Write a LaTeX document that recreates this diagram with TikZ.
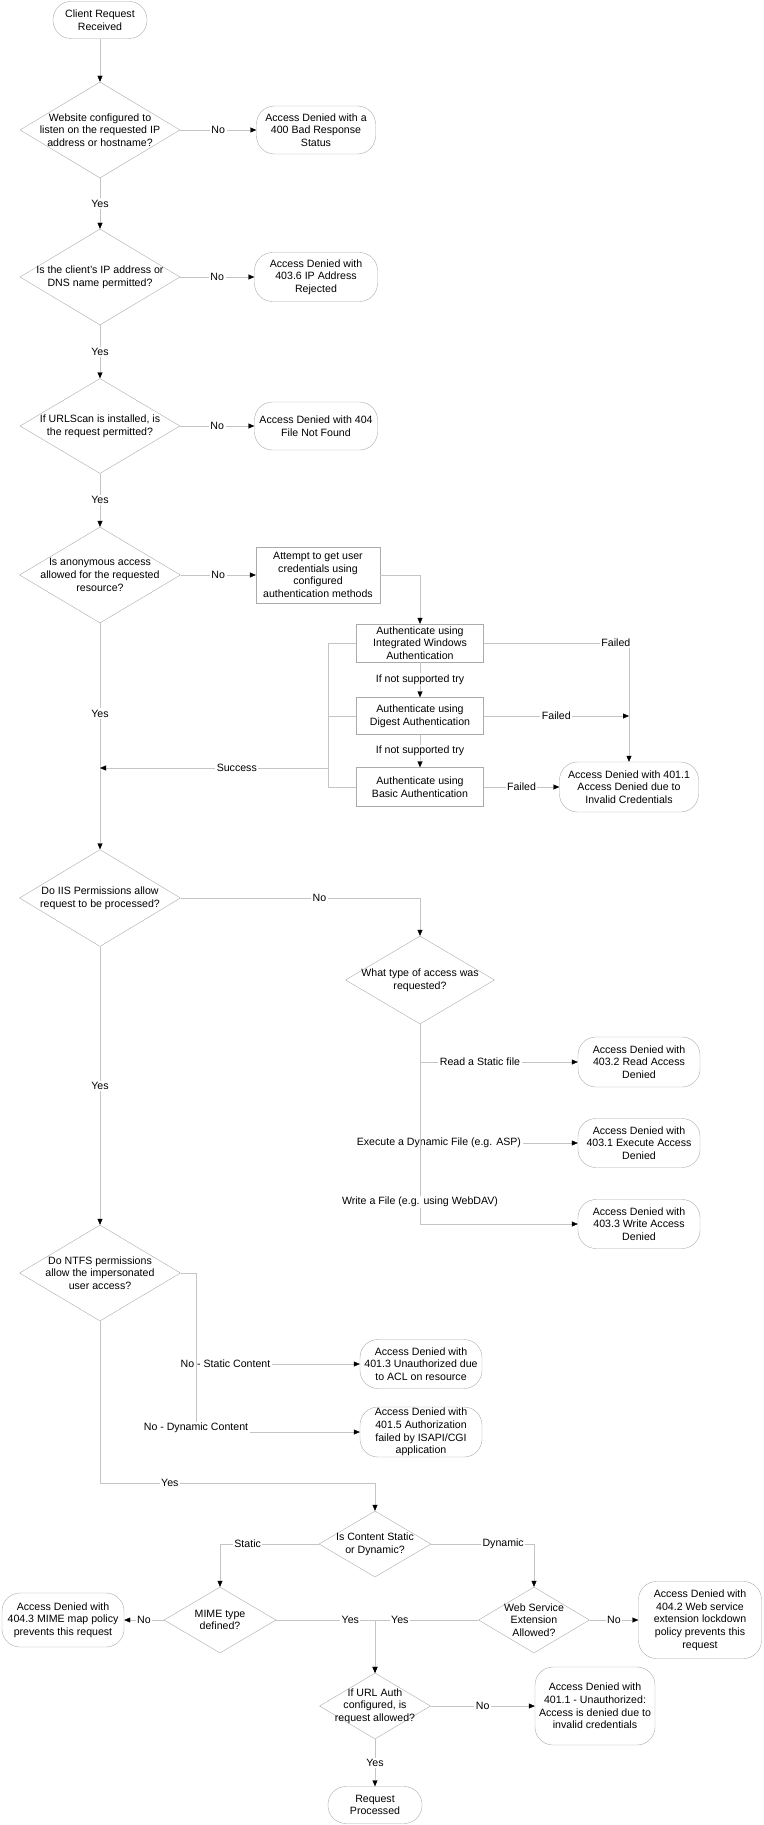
\documentclass[tikz,border=0pt]{standalone}
\usepackage{fontspec}
\setmainfont{Liberation Sans}
\usepackage{xcolor}
\usetikzlibrary{shapes.geometric, positioning, arrows.meta}

\definecolor{linegray}{HTML}{C4C4C4}
\definecolor{boxgray}{HTML}{ABABAB}

\begin{document}
\begin{tikzpicture}[x=1pt, y=-1pt,
        font=\fontsize{10.6}{12.7}\selectfont,
        term/.style 2 args={rectangle, rounded corners=18pt, draw=boxgray, align=center, inner sep=1pt, minimum width=#1, minimum height=#2},
        proc/.style 2 args={rectangle, draw=boxgray, align=center, inner sep=1pt, minimum width=#1, minimum height=#2},
        dec/.style 2 args={diamond, draw=boxgray, inner sep=0pt, minimum width=#1, minimum height=#2},
        dtxt/.style={align=center},
        flow/.style={draw=linegray, -{Triangle[length=6pt, width=5pt, color=black]}},
        link/.style={draw=linegray},
        lbl/.style={fill=white, inner sep=1.5pt}]
        \useasboundingbox (0, 0) rectangle (763, 1825);

        % main column
        \node[term={94pt}{37pt}] (start) at (100, 20) {Client Request\\Received};
        \node[dec={160pt}{96pt}, label={[dtxt]center:{Website configured to\\listen on the requested IP\\address or hostname?}}] (qhost) at (100, 130) {};
        \node[term={119pt}{48pt}] (e400) at (316, 130) {Access Denied with a\\400 Bad Response\\Status};
        \node[dec={160pt}{96pt}, label={[dtxt]center:{Is the client’s IP address or\\DNS name permitted?}}] (qip) at (100, 277) {};
        \node[term={123pt}{49pt}] (e4036) at (316, 277) {Access Denied with\\403.6 IP Address\\Rejected};
        \node[dec={160pt}{95pt}, label={[dtxt]center:{If URLScan is installed, is\\the request permitted?}}] (qscan) at (100, 426) {};
        \node[term={123pt}{48pt}] (e404) at (316, 426) {Access Denied with 404\\File Not Found};
        \node[dec={161pt}{96pt}, label={[dtxt]center:{Is anonymous access\\allowed for the requested\\resource?}}] (qanon) at (100, 575) {};

        % authentication
        \node[proc={124pt}{56pt}] (getcred) at (318, 575) {Attempt to get user\\credentials using\\configured\\authentication methods};
        \node[proc={127pt}{38pt}] (aiwa) at (420, 643) {Authenticate using\\Integrated Windows\\Authentication};
        \node[proc={127pt}{37pt}] (adig) at (420, 716) {Authenticate using\\Digest Authentication};
        \node[proc={127pt}{39pt}] (abas) at (420, 787) {Authenticate using\\Basic Authentication};
        \node[term={139pt}{50pt}] (e4011) at (629, 787) {Access Denied with 401.1\\Access Denied due to\\Invalid Credentials};

        % IIS permissions
        \node[dec={161pt}{97pt}, label={[dtxt]center:{Do IIS Permissions allow\\request to be processed?}}] (qiis) at (100, 898) {};
        \node[dec={149pt}{88pt}, label={[dtxt]center:{What type of access was\\requested?}}] (qtype) at (420, 980) {};
        \node[term={122pt}{50pt}] (e4032) at (639, 1062) {Access Denied with\\403.2 Read Access\\Denied};
        \node[term={122pt}{49pt}] (e4031) at (639, 1143) {Access Denied with\\403.1 Execute Access\\Denied};
        \node[term={122pt}{49pt}] (e4033) at (639, 1224) {Access Denied with\\403.3 Write Access\\Denied};

        % NTFS
        \node[dec={161pt}{96pt}, label={[dtxt]center:{Do NTFS permissions\\allow the impersonated\\user access?}}] (qntfs) at (100, 1273) {};
        \node[term={122pt}{49pt}] (e4013) at (421, 1364) {Access Denied with\\401.3 Unauthorized due\\to ACL on resource};
        \node[term={122pt}{49pt}] (e4015) at (421, 1432) {Access Denied with\\401.5 Authorization\\failed by ISAPI/CGI\\application};

        % content type
        \node[dec={112pt}{66pt}, label={[dtxt]center:{Is Content Static\\or Dynamic?}}] (qstat) at (375, 1544) {};
        \node[dec={112pt}{66pt}, label={[dtxt]center:{MIME type\\defined?}}] (qmime) at (220, 1620) {};
        \node[term={122pt}{54pt}] (e4043) at (63, 1620) {Access Denied with\\404.3 MIME map policy\\prevents this request};
        \node[dec={111pt}{66pt}, label={[dtxt]center:{Web Service\\Extension\\Allowed?}}] (qwse) at (534, 1620) {};
        \node[term={123pt}{77pt}] (e4042) at (700, 1620) {Access Denied with\\404.2 Web service\\extension lockdown\\policy prevents this\\request};
        \node[dec={111pt}{66pt}, label={[dtxt]center:{If URL Auth\\configured, is\\request allowed?}}] (qurl) at (375, 1706) {};
        \node[term={120pt}{78pt}] (e4011b) at (595, 1706) {Access Denied with\\401.1 - Unauthorized:\\Access is denied due to\\invalid credentials};
        \node[term={94pt}{37pt}] (done) at (375, 1805) {Request\\Processed};

        \coordinate (sbar) at (328, 768);
        \coordinate (ffail) at (e4011.north |- adig.east);
        \coordinate (nbend) at (196, 1273);
        \coordinate (ybend) at (100, 1483);

        \draw[flow] (start) -- (qhost);
        \draw[flow] (qhost) -- node[lbl] {No} (e400);
        \draw[flow] (qhost) -- node[lbl] {Yes} (qip);
        \draw[flow] (qip) -- node[lbl] {No} (e4036);
        \draw[flow] (qip) -- node[lbl] {Yes} (qscan);
        \draw[flow] (qscan) -- node[lbl] {No} (e404);
        \draw[flow] (qscan) -- node[lbl] {Yes} (qanon);
        \draw[flow] (qanon) -- node[lbl] {No} (getcred);
        \draw[flow] (qanon.south) -- node[lbl, pos=0.4] {Yes} (qiis.north);

        \draw[flow] (getcred.east) -| (aiwa.north);
        \draw[flow] (aiwa) -- node[lbl] {If not supported try} (adig);
        \draw[flow] (adig) -- node[lbl] {If not supported try} (abas);
        \draw[flow] (aiwa.east) -| node[lbl, pos=0.455] {Failed} (e4011.north);
        \draw[flow] (adig.east) -- node[lbl] {Failed} (ffail);
        \draw[flow] (abas.east) -- node[lbl] {Failed} (e4011.west);
        \draw[link] (aiwa.west) -- (aiwa.west -| sbar) |- (abas.west)
            (adig.west) -- (adig.west -| sbar);
        \draw[flow] (sbar) -- node[lbl, pos=0.4] {Success} (sbar -| qanon);

        \draw[flow] (qiis.east) -| node[lbl, pos=0.29] {No} (qtype.north);
        \draw[flow] (qiis.south) -- node[lbl] {Yes} (qntfs.north);
        \draw[flow] (qtype.south) |- node[lbl, pos=0.69] {Read a Static file} (e4032.west);
        \draw[flow] (qtype.south) |- node[lbl, pos=0.56] {Execute a Dynamic File (e.g. ASP)} (e4031.west);
        \draw[flow] (qtype.south) |- node[lbl, pos=0.445] {Write a File (e.g. using WebDAV)} (e4033.west);

        \draw[flow] (qntfs.east) -- (nbend) |- node[lbl, pos=0.59] {No - Static Content} (e4013.west);
        \draw[flow] (qntfs.east) -- (nbend) |- node[lbl, pos=0.5, yshift=4pt] {No - Dynamic Content} (e4015.west);
        \draw[flow] (qntfs.south) -- (ybend) -| node[lbl, pos=0.127] {Yes} (qstat.north);

        \draw[flow] (qstat.west) -| node[lbl, pos=0.36] {Static} (qmime.north);
        \draw[flow] (qstat.east) -| node[lbl, pos=0.35] {Dynamic} (qwse.north);
        \draw[flow] (qmime) -- node[lbl] {No} (e4043);
        \draw[flow] (qwse) -- node[lbl] {No} (e4042);
        \draw[flow] (qmime.east) -| node[lbl, pos=0.375] {Yes} (qurl.north);
        \draw[flow] (qwse.west) -| node[lbl, pos=0.38] {Yes} (qurl.north);
        \draw[flow] (qurl) -- node[lbl] {No} (e4011b);
        \draw[flow] (qurl) -- node[lbl] {Yes} (done);
    \end{tikzpicture}
\end{document}
